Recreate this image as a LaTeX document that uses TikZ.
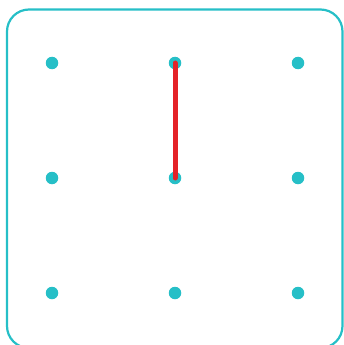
\documentclass[tikz,border=0pt]{standalone}
\definecolor{teal1}{RGB}{38,191,199}
\definecolor{red1}{RGB}{228,34,40}
\begin{document}
\begin{tikzpicture}[x=1pt,y=-1pt,
  dot/.style={circle,fill=teal1,inner sep=0pt,minimum size=12.5pt},
  frame/.style={draw=teal1,line width=2.2pt,rounded corners=22pt},
  seg/.style={draw=red1,line width=5pt,line cap=round}]
\useasboundingbox (0,0) rectangle (344,345);
\begin{scope}
\clip (0,0) rectangle (344,345);
\draw[frame] (7,9.5) rectangle (342.5,348);
\end{scope}
\foreach \i/\x in {1/52,2/175,3/298}{
  \foreach \j/\y in {1/63,2/178,3/293}{
    \node[dot] (d\i\j) at (\x,\y) {};
  }
}
\draw[seg] (d21.center) -- (d22.center);
\end{tikzpicture}
\end{document}
